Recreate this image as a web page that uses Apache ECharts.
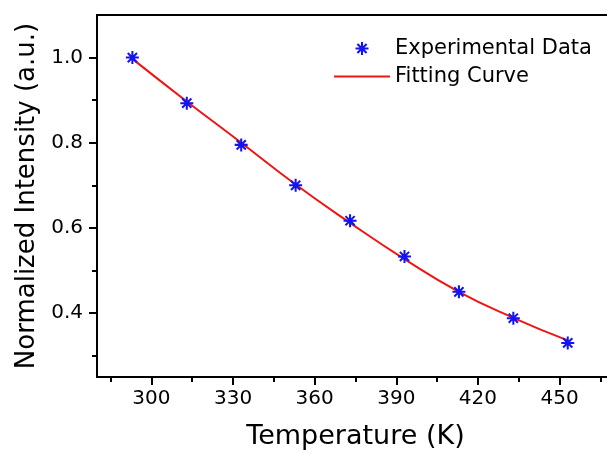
<!DOCTYPE html>
<html>
<head>
<meta charset="utf-8">
<script src="https://cdn.jsdelivr.net/npm/echarts@6/dist/echarts.min.js"></script>
<style>html,body{margin:0;padding:0;background:#fff}#c{width:607px;height:454px}</style>
</head>
<body>
<div id="c"></div>
<script>
// Data
const temperature = [293, 313, 333, 353, 373, 393, 413, 433, 453];
const experimental = [1.000, 0.893, 0.795, 0.700, 0.617, 0.533, 0.450, 0.388, 0.330];
const fitting = [0.997, 0.897, 0.800, 0.702, 0.612, 0.527, 0.450, 0.389, 0.336];
const xMajorTicks = [300, 330, 360, 390, 420, 450];
const xMinorTicks = [285, 315, 345, 375, 405, 435, 465];
const yMajorTicks = [0.4, 0.6, 0.8, 1.0];
const yMinorTicks = [0.3, 0.5, 0.7, 0.9];

const FONT = 'DejaVu Sans';
const star = 'path://M-1.1,-7 L1.1,-7 L1.1,7 L-1.1,7 Z M-7,-1.1 L7,-1.1 L7,1.1 L-7,1.1 Z ' +
  'M-5.728,-4.172 L-4.172,-5.728 L5.728,4.172 L4.172,5.728 Z ' +
  'M4.172,-5.728 L5.728,-4.172 L-4.172,5.728 L-5.728,4.172 Z';

const chart = echarts.init(document.getElementById('c'), null, {renderer: 'canvas'});
const axisLineStyle = {color: '#000', width: 2};
const option = {
  animation: false,
  backgroundColor: '#fff',
  grid: {left: 97, top: 15, width: 517, height: 362, containLabel: false, outerBoundsMode: 'none'},
  legend: {
    orient: 'vertical', left: 333, top: 38, padding: 0, itemGap: 7,
    itemWidth: 56, itemHeight: 13,
    textStyle: {fontFamily: FONT, fontSize: 21, color: '#000'},
    data: [
      {name: 'Experimental Data'},
      {name: 'Fitting Curve', itemStyle: {opacity: 0, borderWidth: 0}}
    ]
  },
  xAxis: [
    {
      type: 'value', position: 'bottom', min: 280, max: 470,
      name: 'Temperature (K)', nameLocation: 'middle', nameGap: 46,
      nameTextStyle: {fontFamily: FONT, fontSize: 27, color: '#000'},
      axisLine: {show: true, lineStyle: axisLineStyle},
      axisTick: {show: true, length: 8, lineStyle: {color: '#000', width: 2}, customValues: xMajorTicks},
      axisLabel: {show: true, margin: 12, fontFamily: FONT, fontSize: 20, color: '#000', customValues: xMajorTicks},
      splitLine: {show: false}
    },
    {
      type: 'value', position: 'bottom', min: 280, max: 470,
      axisLine: {show: false},
      axisTick: {show: true, length: 5, lineStyle: {color: '#000', width: 2}, customValues: xMinorTicks},
      axisLabel: {show: false, customValues: xMinorTicks},
      splitLine: {show: false}
    },
    {
      type: 'value', position: 'top', min: 280, max: 470,
      axisLine: {show: true, lineStyle: axisLineStyle},
      axisTick: {show: false}, axisLabel: {show: false}, splitLine: {show: false}
    }
  ],
  yAxis: [
    {
      type: 'value', position: 'left', min: 0.25, max: 1.1,
      name: 'Normalized Intensity (a.u.)', nameLocation: 'middle', nameGap: 56,
      nameTextStyle: {fontFamily: FONT, fontSize: 26, color: '#000'},
      axisLine: {show: true, lineStyle: axisLineStyle},
      axisTick: {show: true, length: 8, lineStyle: {color: '#000', width: 2}, customValues: yMajorTicks},
      axisLabel: {show: true, margin: 14, fontFamily: FONT, fontSize: 20, color: '#000',
        customValues: yMajorTicks, formatter: v => v.toFixed(1)},
      splitLine: {show: false}
    },
    {
      type: 'value', position: 'left', min: 0.25, max: 1.1,
      axisLine: {show: false},
      axisTick: {show: true, length: 5, lineStyle: {color: '#000', width: 2}, customValues: yMinorTicks},
      axisLabel: {show: false, customValues: yMinorTicks},
      splitLine: {show: false}
    }
  ],
  series: [
    {
      name: 'Fitting Curve', type: 'line', xAxisIndex: 0, yAxisIndex: 0,
      data: temperature.map((t, i) => [t, fitting[i]]),
      smooth: true, showSymbol: false, symbol: 'none',
      lineStyle: {color: '#f01414', width: 2}, itemStyle: {color: '#f01414'}, z: 2
    },
    {
      name: 'Experimental Data', type: 'scatter', xAxisIndex: 0, yAxisIndex: 0,
      data: temperature.map((t, i) => [t, experimental[i]]),
      symbol: star, symbolSize: 13,
      itemStyle: {color: '#1414f0', opacity: 1}, z: 3
    }
  ]
};
chart.setOption(option);
</script>
</body>
</html>
